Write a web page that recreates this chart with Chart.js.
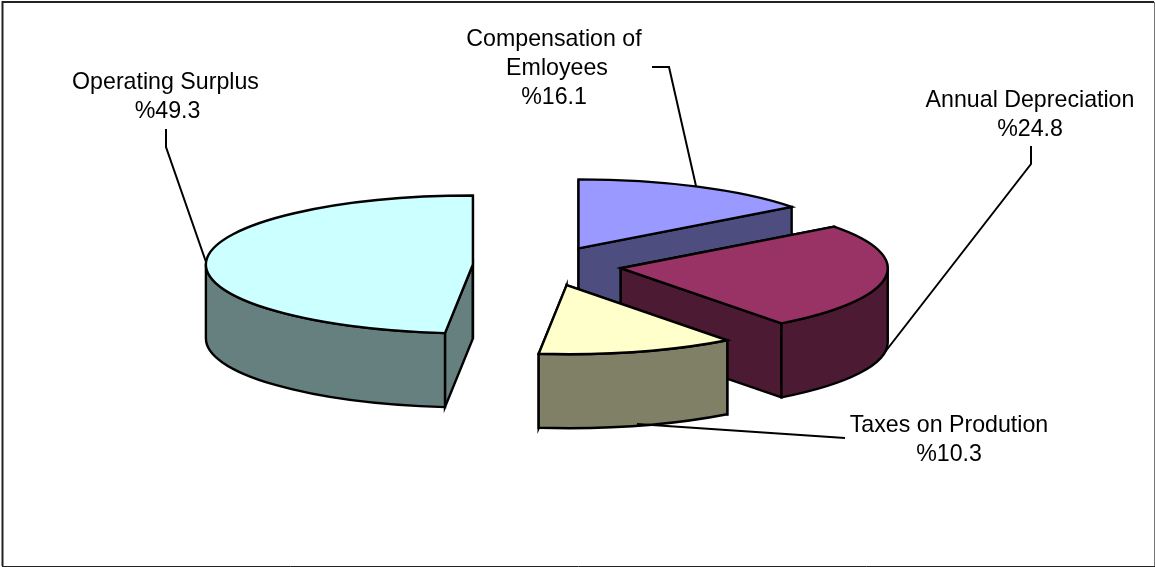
<!DOCTYPE html>
<html>
<head>
<meta charset="utf-8">
<style>
  html, body { margin: 0; padding: 0; background: #fff; overflow: hidden; }
  canvas { display: block; }
</style>
</head>
<body>
<canvas id="chart" width="1155" height="567"></canvas>
<script src="https://cdn.jsdelivr.net/npm/chart.js@4"></script>
<script>
var categories = ['Compensation of Emloyees', 'Annual Depreciation', 'Taxes on Prodution', 'Operating Surplus'];
var shares = [16.1, 24.8, 10.3, 49.3];
var labelLines = [['Compensation of', 'Emloyees'], ['Annual Depreciation'], ['Taxes on Prodution'], ['Operating Surplus']];

var topColors = ['#9999ff', '#993366', '#ffffcc', '#ccffff'];
var wallColors = ['#4d4d80', '#4d1a33', '#808066', '#668080'];

// how far each slice is pulled out, in px of the unsquashed pie
var explode = [74, 76, 79, 72.7];
var squash = 0.2584;
var wallHeight = 74;
// the original's slices are not quite proportional to its printed percentages,
// so nudge each slice boundary (degrees) to sit where the original drew it
var boundaryShift = [0, -4.7, -3.5, 2.6, 0];

// label centre x, first baseline y, then per-line x nudges
var labelPos = [[554, 46], [1030, 107], [949, 432], [165.5, 89]];
var labelNudge = [[0, 3, 0], [0, 0], [0, 0], [0, 2]];
var leaders = [
  [[652, 67], [669, 67], [696, 186]],
  [[1031, 146], [1031, 164], [885, 352]],
  [[845, 438], [637, 424]],
  [[166, 129], [166, 147], [206, 262]]
];

function screenGeom(chart, arc) {
  var cy = (chart.chartArea.top + chart.chartArea.bottom) / 2;
  return {
    x: arc.x,
    y: cy + (arc.y - cy) * squash,
    rx: arc.outerRadius,
    ry: arc.outerRadius * squash
  };
}

function drawRadialWall(ctx, g, angle) {
  var px = g.x + Math.cos(angle) * g.rx;
  var py = g.y + Math.sin(angle) * g.ry;
  ctx.beginPath();
  ctx.moveTo(g.x, g.y);
  ctx.lineTo(px, py);
  ctx.lineTo(px, py + wallHeight);
  ctx.lineTo(g.x, g.y + wallHeight);
  ctx.closePath();
  ctx.fill();
  ctx.stroke();
}

function drawOuterWall(ctx, g, start, end) {
  // only the part of the rim that faces the viewer
  for (var k = -1; k <= 1; k++) {
    var a = Math.max(start, k * 2 * Math.PI);
    var b = Math.min(end, k * 2 * Math.PI + Math.PI);
    if (b <= a) continue;
    ctx.beginPath();
    ctx.ellipse(g.x, g.y, g.rx, g.ry, 0, a, b);
    ctx.ellipse(g.x, g.y + wallHeight, g.rx, g.ry, 0, b, a, true);
    ctx.closePath();
    ctx.fill();
    ctx.stroke();
  }
}

var pie3d = {
  id: 'pie3d',
  afterDatasetsUpdate: function(chart) {
    var cx = (chart.chartArea.left + chart.chartArea.right) / 2;
    var cy = (chart.chartArea.top + chart.chartArea.bottom) / 2;
    chart.getDatasetMeta(0).data.forEach(function(arc, i) {
      arc.startAngle += boundaryShift[i] * Math.PI / 180;
      arc.endAngle += boundaryShift[i + 1] * Math.PI / 180;
      arc.circumference = arc.endAngle - arc.startAngle;
      var mid = (arc.startAngle + arc.endAngle) / 2;
      arc.x = cx + Math.cos(mid) * explode[i];
      arc.y = cy + Math.sin(mid) * explode[i];
    });
  },
  beforeDatasetsDraw: function(chart) {
    var ctx = chart.ctx;
    var cy = (chart.chartArea.top + chart.chartArea.bottom) / 2;
    ctx.save();
    ctx.lineWidth = 2.4;
    ctx.lineJoin = 'miter';
    ctx.strokeStyle = '#000';
    chart.getDatasetMeta(0).data.forEach(function(arc, i) {
      var g = screenGeom(chart, arc);
      ctx.fillStyle = wallColors[i];
      drawRadialWall(ctx, g, arc.startAngle);
      drawRadialWall(ctx, g, arc.endAngle);
      drawOuterWall(ctx, g, arc.startAngle, arc.endAngle);
    });
    ctx.restore();
    // the library draws the slice tops through this squash
    ctx.save();
    ctx.translate(0, cy);
    ctx.scale(1, squash);
    ctx.translate(0, -cy);
  },
  afterDatasetsDraw: function(chart) {
    var ctx = chart.ctx;
    ctx.restore();
    ctx.save();
    ctx.lineWidth = 2.4;
    ctx.lineJoin = 'miter';
    ctx.strokeStyle = '#000';
    chart.getDatasetMeta(0).data.forEach(function(arc) {
      var g = screenGeom(chart, arc);
      ctx.beginPath();
      ctx.moveTo(g.x, g.y);
      ctx.ellipse(g.x, g.y, g.rx, g.ry, 0, arc.startAngle, arc.endAngle);
      ctx.closePath();
      ctx.stroke();
    });
    ctx.restore();
  },
  afterDraw: function(chart) {
    var ctx = chart.ctx;
    ctx.save();
    // frame
    ctx.strokeStyle = '#222';
    ctx.lineWidth = 2;
    ctx.beginPath();
    ctx.moveTo(2.5, 566);
    ctx.lineTo(2.5, 2);
    ctx.lineTo(1154, 2);
    ctx.stroke();
    ctx.beginPath();
    ctx.moveTo(2, 566.5);
    ctx.lineTo(1155, 566.5);
    ctx.lineWidth = 1;
    ctx.stroke();
    ctx.strokeStyle = '#777';
    ctx.beginPath();
    ctx.moveTo(1154.5, 2);
    ctx.lineTo(1154.5, 566);
    ctx.stroke();
    // leader lines
    ctx.strokeStyle = '#000';
    ctx.lineWidth = 2;
    leaders.forEach(function(line) {
      ctx.beginPath();
      line.forEach(function(p, j) {
        if (j === 0) ctx.moveTo(p[0], p[1]);
        else ctx.lineTo(p[0], p[1]);
      });
      ctx.stroke();
    });
    // labels
    ctx.fillStyle = '#000';
    ctx.font = '23.2px "Liberation Sans"';
    ctx.textAlign = 'center';
    ctx.textBaseline = 'alphabetic';
    categories.forEach(function(name, i) {
      var lines = labelLines[i].concat(['%' + shares[i]]);
      lines.forEach(function(text, j) {
        ctx.fillText(text, labelPos[i][0] + labelNudge[i][j], labelPos[i][1] + j * 29);
      });
    });
    ctx.restore();
  }
};

new Chart(document.getElementById('chart'), {
  type: 'pie',
  data: {
    labels: categories,
    datasets: [{
      data: shares,
      backgroundColor: topColors,
      borderWidth: 0,
      clip: false
    }]
  },
  options: {
    responsive: false,
    animation: false,
    events: [],
    rotation: 0,
    radius: 267,
    layout: { padding: { right: 64, bottom: 36 } },
    plugins: {
      legend: { display: false },
      tooltip: { enabled: false }
    }
  },
  plugins: [pie3d]
});
</script>
</body>
</html>
